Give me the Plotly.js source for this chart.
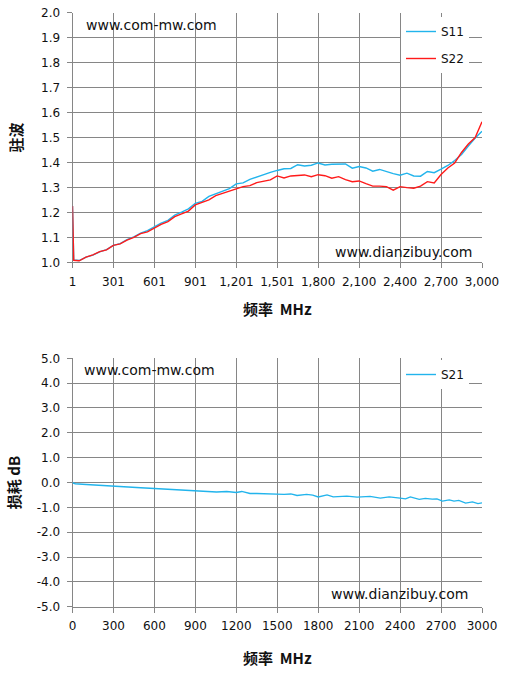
<!DOCTYPE html>
<html>
<head>
<meta charset="utf-8">
<script src="https://cdn.plot.ly/plotly-3.0.1.min.js"></script>
<style>
html,body{margin:0;padding:0;background:#fff;}
#chart{width:506px;height:675px;}
</style>
</head>
<body>
<div id="chart"></div>
<script>
// ---- Data ----
const freqTop = [1, 10, 50, 100, 150, 200, 250, 300, 350, 400, 450, 500, 550, 600, 650, 700, 750, 800, 850, 900,
  950, 1000, 1050, 1100, 1150, 1200, 1250, 1300, 1350, 1400, 1450, 1500, 1550, 1600, 1650, 1700, 1750, 1800,
  1850, 1900, 1950, 2000, 2050, 2100, 2150, 2200, 2250, 2300, 2350, 2400, 2450, 2500, 2550, 2600, 2650, 2700,
  2750, 2800, 2850, 2900, 2950, 3000];
const s11 = [1.225, 1.009, 1.007, 1.021, 1.029, 1.042, 1.051, 1.068, 1.075, 1.091, 1.102, 1.117, 1.127, 1.143,
  1.157, 1.168, 1.189, 1.201, 1.214, 1.236, 1.244, 1.264, 1.275, 1.285, 1.295, 1.314, 1.318, 1.332, 1.342, 1.352,
  1.360, 1.368, 1.375, 1.376, 1.391, 1.386, 1.389, 1.398, 1.390, 1.393, 1.393, 1.394, 1.377, 1.384, 1.378, 1.365,
  1.372, 1.362, 1.355, 1.349, 1.357, 1.346, 1.345, 1.364, 1.359, 1.373, 1.388, 1.408, 1.432, 1.466, 1.498, 1.525];
const s22 = [1.225, 1.008, 1.006, 1.021, 1.030, 1.043, 1.050, 1.068, 1.074, 1.089, 1.100, 1.115, 1.122, 1.138,
  1.152, 1.163, 1.183, 1.194, 1.205, 1.230, 1.240, 1.250, 1.267, 1.275, 1.286, 1.294, 1.303, 1.307, 1.319, 1.326,
  1.330, 1.346, 1.338, 1.346, 1.349, 1.350, 1.343, 1.351, 1.347, 1.337, 1.343, 1.331, 1.323, 1.326, 1.315, 1.305,
  1.305, 1.303, 1.289, 1.303, 1.299, 1.297, 1.305, 1.323, 1.318, 1.352, 1.378, 1.398, 1.440, 1.474, 1.500, 1.563];

const freqBottom = [0, 20, 100, 200, 300, 400, 500, 600, 700, 800, 900, 950, 1000, 1055, 1130, 1200, 1240, 1300,
  1350, 1400, 1450, 1500, 1550, 1600, 1645, 1715, 1760, 1800, 1865, 1910, 1960, 2010, 2085, 2130, 2180, 2255,
  2320, 2400, 2440, 2475, 2540, 2585, 2635, 2670, 2710, 2760, 2795, 2830, 2880, 2930, 2970, 3000];
const s21 = [-0.01, -0.05, -0.08, -0.12, -0.15, -0.18, -0.21, -0.24, -0.27, -0.29, -0.32, -0.33, -0.35, -0.38,
  -0.36, -0.40, -0.36, -0.44, -0.44, -0.45, -0.46, -0.47, -0.48, -0.46, -0.52, -0.48, -0.51, -0.58, -0.50, -0.58,
  -0.56, -0.55, -0.59, -0.57, -0.56, -0.63, -0.58, -0.63, -0.66, -0.58, -0.68, -0.64, -0.67, -0.66, -0.75, -0.70,
  -0.75, -0.72, -0.83, -0.78, -0.85, -0.82];

const topTickVals = [1, 301, 601, 901, 1201, 1501, 1800, 2100, 2400, 2700, 3000];
const topTickText = ['1', '301', '601', '901', '1,201', '1,501', '1,800', '2,100', '2,400', '2,700', '3,000'];
const bottomYTickVals = [5, 4, 3, 2, 1, 0, -1, -2, -3, -4, -5];
const bottomYTickText = ['5.0', '4.0', '3.0', '2.0', '1.0', '0.0', '-1.0', '-2.0', '-3.0', '-4.0', '-5.0'];

// ---- Styles ----
const BLUE = '#22B4EC';
const RED = '#FF1A1A';
const GRID = '#868686';
const tickFont = {family: 'DejaVu Sans, Verdana, sans-serif', size: 12, color: '#111'};
const titleFont = {family: 'Noto Sans CJK SC, sans-serif', size: 15, color: '#111', weight: 'bold'};
const xDom = [72.5 / 506, 482 / 506];

const axisCommon = {
  showgrid: true, gridcolor: GRID, gridwidth: 1,
  showline: true, linecolor: GRID, linewidth: 1,
  ticks: 'outside', ticklen: 5, tickcolor: GRID, tickwidth: 1,
  tickfont: tickFont, zeroline: false, automargin: false, mirror: false,
  layer: 'below traces'
};

const traces = [
  {x: freqTop, y: s11, name: 'S11', type: 'scatter', mode: 'lines', line: {color: BLUE, width: 1.4},
   xaxis: 'x', yaxis: 'y', legend: 'legend', legendgroup: 'a', cliponaxis: false},
  {x: freqTop, y: s22, name: 'S22', type: 'scatter', mode: 'lines', line: {color: RED, width: 1.4},
   xaxis: 'x', yaxis: 'y', legend: 'legend', legendgroup: 'b', cliponaxis: false},
  {x: freqBottom, y: s21, name: 'S21', type: 'scatter', mode: 'lines', line: {color: BLUE, width: 1.4},
   xaxis: 'x2', yaxis: 'y2', legend: 'legend2', cliponaxis: false}
];

const annFont = {family: 'DejaVu Sans, Verdana, sans-serif', size: 14, color: '#111'};
const layout = {
  width: 506, height: 675,
  margin: {l: 0, r: 0, t: 0, b: 0},
  paper_bgcolor: '#fff', plot_bgcolor: '#fff',
  showlegend: true,
  xaxis: Object.assign({}, axisCommon, {
    domain: xDom, anchor: 'y', range: [1, 3000],
    tickmode: 'array', tickvals: topTickVals, ticktext: topTickText,
    ticklabelstandoff: 3,
    title: {text: '频率  MHz', font: titleFont, standoff: 16}
  }),
  yaxis: Object.assign({}, axisCommon, {
    domain: [1 - 262.3 / 675, 1 - 12.7 / 675], anchor: 'x', range: [1.0, 2.0],
    dtick: 0.1, tick0: 1.0, tickformat: '.1f', ticklabelstandoff: 4,
    title: {text: '驻波', font: titleFont, standoff: 14}
  }),
  xaxis2: Object.assign({}, axisCommon, {
    domain: xDom, anchor: 'y2', range: [0, 3000], dtick: 300, tick0: 0,
    ticklabelstandoff: 3,
    title: {text: '频率  MHz', font: titleFont, standoff: 21}
  }),
  yaxis2: Object.assign({}, axisCommon, {
    domain: [1 - 606.7 / 675, 1 - 358.3 / 675], anchor: 'x2', range: [-5, 5],
    tickmode: 'array', tickvals: bottomYTickVals, ticktext: bottomYTickText, ticklabelstandoff: 4,
    title: {text: '损耗 dB', font: titleFont, standoff: 12}
  }),
  legend: {
    x: 469 / 506, xanchor: 'right', y: 1 - 17 / 675, yanchor: 'top',
    bgcolor: '#fff', borderwidth: 0, font: {family: 'DejaVu Sans, Verdana, sans-serif', size: 12, color: '#111'},
    itemwidth: 30, tracegroupgap: 8, traceorder: 'grouped'
  },
  legend2: {
    x: 469 / 506, xanchor: 'right', y: 1 - 360 / 675, yanchor: 'top',
    bgcolor: '#fff', borderwidth: 0, font: {family: 'DejaVu Sans, Verdana, sans-serif', size: 12, color: '#111'},
    itemwidth: 30
  },
  annotations: [
    {xref: 'paper', yref: 'paper', x: 84 / 506, y: 1 - 25 / 675, xanchor: 'left', yanchor: 'middle',
     text: 'www.com-mw.com', showarrow: false, font: annFont},
    {xref: 'paper', yref: 'paper', x: 474 / 506, y: 1 - 251.5 / 675, xanchor: 'right', yanchor: 'middle',
     text: 'www.dianzibuy.com', showarrow: false, font: annFont},
    {xref: 'paper', yref: 'paper', x: 82 / 506, y: 1 - 370 / 675, xanchor: 'left', yanchor: 'middle',
     text: 'www.com-mw.com', showarrow: false, font: annFont},
    {xref: 'paper', yref: 'paper', x: 470 / 506, y: 1 - 594 / 675, xanchor: 'right', yanchor: 'middle',
     text: 'www.dianzibuy.com', showarrow: false, font: annFont}
  ]
};

Plotly.newPlot('chart', traces, layout, {displayModeBar: false, staticPlot: true});
</script>
</body>
</html>
